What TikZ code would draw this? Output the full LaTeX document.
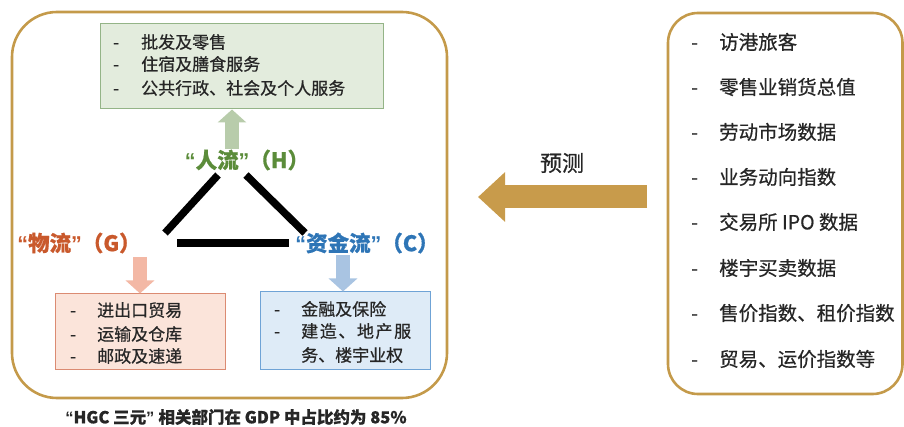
\documentclass[tikz,border=0pt]{standalone}
\usepackage{fontspec}
\setmainfont{Noto Sans CJK SC}[FakeBold=0.6]
\newfontfamily\latinq{Liberation Sans}
\usetikzlibrary{arrows.meta}
\definecolor{gold}{HTML}{C49A4A}
\definecolor{goldarrow}{HTML}{C89B4B}
\definecolor{gfill}{HTML}{E3ECDD}
\definecolor{gline}{HTML}{94B487}
\definecolor{garrow}{HTML}{B8CCAB}
\definecolor{gtext}{HTML}{5B8C3A}
\definecolor{pfill}{HTML}{FBE4DA}
\definecolor{pline}{HTML}{DB8B72}
\definecolor{parrow}{HTML}{F3B8A5}
\definecolor{ptext}{HTML}{C9592C}
\definecolor{bfill}{HTML}{DEEBF7}
\definecolor{bline}{HTML}{6FA3D6}
\definecolor{barrow}{HTML}{A9C4E2}
\definecolor{btext}{HTML}{2E75B6}
\definecolor{txt}{HTML}{262626}
\newcommand{\myLq}{{\latinq\bfseries “}}
\newcommand{\myRq}{{\latinq\bfseries ”}}
\tikzset{
  goldbox/.style={draw=gold, line width=2.6pt, rounded corners=#1},
  catbox/.style={line width=1pt},
  itemtxt/.style={anchor=base west, inner sep=0pt, text=txt, font=\fontsize{17}{19}\selectfont},
  rightitem/.style={anchor=base west, inner sep=0pt, text=txt, font=\fontsize{19.5}{21}\selectfont},
  flowlabel/.style={inner sep=0pt, font=\bfseries\fontsize{21.5}{24}\selectfont},
  triline/.style={line width=7.5pt, black},
  fatarrow/.style={line width=14pt, -{Triangle[width=28pt,length=13pt]}}
}
\begin{document}
\begin{tikzpicture}[x=1pt,y=-1pt]
\useasboundingbox (0,0) rectangle (904,427);
% left frame
\draw[goldbox=45pt] (12,12) rectangle (447,398);
% right frame
\draw[goldbox=30pt] (668,13) rectangle (902.5,394);

% green box
\node[catbox, draw=gline, fill=gfill, minimum width=283pt, minimum height=85pt, inner sep=0pt] (hbox) at (241.5,66.5) {};
\foreach \y/\t in {42/批发及零售, 64/住宿及膳食服务, 88/公共行政、社会及个人服务}{
  \node[itemtxt] at (113,\y+6.5) {-};
  \node[itemtxt] at (141,\y+6.5) {\t};
}
% pink box
\node[catbox, draw=pline, fill=pfill, minimum width=170pt, minimum height=75pt, inner sep=0pt] (gbox) at (140,331.5) {};
\foreach \y/\t in {310/进出口贸易, 334/运输及仓库, 356/邮政及速递}{
  \node[itemtxt] at (70,\y+6.5) {-};
  \node[itemtxt] at (97,\y+6.5) {\t};
}
% blue box
\node[catbox, draw=bline, fill=bfill, minimum width=170pt, minimum height=77pt, inner sep=0pt] (cbox) at (345,330.5) {};
\node[itemtxt] at (274,309+6.5) {-};
\node[itemtxt] at (301,309+6.5) {金融及保险};
\node[itemtxt] at (274,331+6.5) {-};
\node[itemtxt] at (301,331+6.5) {建\hspace{1.6pt}造\hspace{1.6pt}、\hspace{1.6pt}地\hspace{1.6pt}产\hspace{1.6pt}服};
\node[itemtxt] at (301,355+6.5) {务、楼宇业权};

% flow labels
\node[flowlabel, text=gtext] (H) at (247,160) {\myLq 人流\myRq（H）};
\node[flowlabel, text=ptext] (G) at (79,243) {\myLq 物流\myRq（G）};
\node[flowlabel, text=btext] (C) at (367,243) {\myLq 资金流\myRq（C）};

% small arrows
\coordinate (ha) at (232,149);
\coordinate (ga) at (140,257);
\coordinate (ca) at (343,255);
\draw[fatarrow, garrow] (ha) -- (hbox.south -| ha);
\draw[fatarrow, parrow] (ga) -- (gbox.north -| ga);
\draw[fatarrow, barrow] (ca) -- (cbox.north -| ca);

% triangle
\coordinate (t1) at (218,175);
\coordinate (t2) at (165,233);
\coordinate (t3) at (246,175);
\coordinate (t4) at (305,233);
\coordinate (t5) at (177,243);
\coordinate (t6) at (289,243);
\draw[triline] (t1) -- (t2);
\draw[triline] (t3) -- (t4);
\draw[triline] (t5) -- (t6);

% right items
\foreach \y/\t in {42/访港旅客, 87/零售业销货总值, 132/劳动市场数据, 177/业务动向指数, 222/交易所 IPO 数据, 268/楼宇买卖数据, 313/售价指数、租价指数, 359/贸易、运价指数等}{
  \node[rightitem] at (691,\y+7.4) {-};
  \node[rightitem] at (719,\y+7.4) {\t};
}

% big arrow
\coordinate (bs) at (647,197);
\coordinate (be) at (478,197);
\draw[goldarrow, line width=23pt, -{Triangle[width=48pt,length=27pt]}] (bs) -- (be);
\node[inner sep=0pt, text=txt, font=\fontsize{22}{24}\selectfont] (pred) at (562,163) {预测};

% caption
\node[inner sep=0pt, text=txt, font=\bfseries\fontsize{16.5}{18}\selectfont] (cap) at (236,417) {\myLq HGC 三元\myRq\hspace{4pt}相关部门在 GDP 中占比约为 85\%};
\end{tikzpicture}
\end{document}
